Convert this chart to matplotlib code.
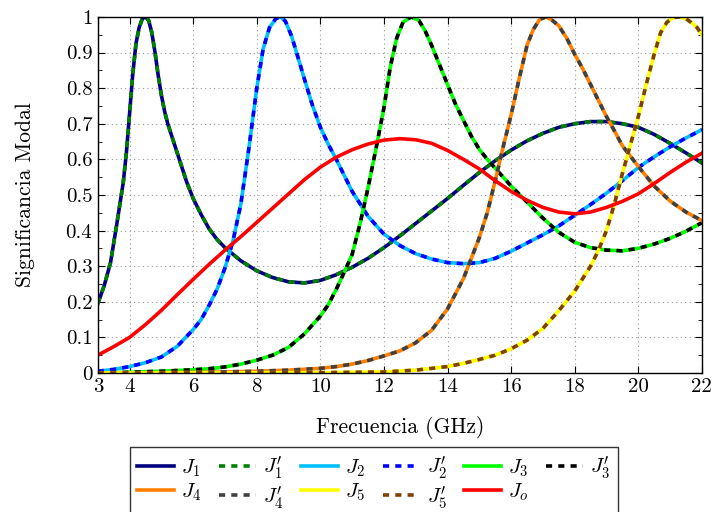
import numpy as np
import matplotlib
matplotlib.use("Agg")
import matplotlib.pyplot as plt

plt.rcParams['font.family'] = ['cmr10', 'DejaVu Serif']
plt.rcParams['mathtext.fontset'] = 'cm'
plt.rcParams['axes.formatter.use_mathtext'] = True

# frecuencia (GHz) y significancia modal de cada modo
f1 = [3.0, 3.2, 3.4, 3.6, 3.8, 3.9, 4.0, 4.1, 4.2, 4.3, 4.4, 4.5, 4.6, 4.7, 4.8, 4.9, 5.0, 5.1,
      5.2, 5.4, 5.6, 5.8, 6.0, 6.25, 6.5, 6.75, 7.0, 7.5, 8.0, 8.5, 9.0, 9.5, 10.0, 10.5, 11.0,
      11.5, 12.0, 12.5, 13.0, 13.5, 14.0, 14.5, 15.0, 15.5, 16.0, 16.5, 17.0, 17.5, 18.0, 18.5,
      19.0, 19.5, 20.0, 20.5, 21.0, 21.5, 22.0]
j1 = [0.195, 0.245, 0.31, 0.42, 0.535, 0.62, 0.73, 0.84, 0.925, 0.97, 0.995, 1.0, 0.99, 0.955,
      0.90, 0.835, 0.78, 0.735, 0.70, 0.645, 0.59, 0.535, 0.49, 0.445, 0.405, 0.375, 0.352, 0.315,
      0.287, 0.268, 0.256, 0.253, 0.26, 0.276, 0.297, 0.322, 0.352, 0.385, 0.42, 0.455, 0.49, 0.527,
      0.563, 0.596, 0.626, 0.652, 0.673, 0.69, 0.70, 0.706, 0.706, 0.70, 0.69, 0.67, 0.645, 0.618,
      0.59]

f2 = [3.0, 3.5, 4.0, 4.5, 5.0, 5.5, 6.0, 6.25, 6.5, 6.75, 7.0, 7.25, 7.5, 7.75, 8.0, 8.2, 8.4,
      8.6, 8.75, 8.9, 9.1, 9.3, 9.5, 9.75, 10.0, 10.25, 10.5, 10.75, 11.0, 11.5, 12.0, 12.5, 13.0,
      13.5, 14.0, 14.5, 15.0, 15.5, 16.0, 16.5, 17.0, 17.5, 18.0, 18.5, 19.0, 19.5, 20.0, 20.5,
      21.0, 21.5, 22.0]
j2 = [0.005, 0.01, 0.018, 0.029, 0.045, 0.075, 0.122, 0.15, 0.19, 0.235, 0.295, 0.37, 0.475,
      0.63, 0.80, 0.91, 0.97, 0.995, 1.0, 0.988, 0.945, 0.885, 0.825, 0.752, 0.69, 0.642, 0.60,
      0.555, 0.51, 0.44, 0.39, 0.358, 0.335, 0.32, 0.31, 0.307, 0.31, 0.322, 0.342, 0.365, 0.388,
      0.413, 0.443, 0.473, 0.505, 0.54, 0.577, 0.607, 0.635, 0.66, 0.683]

f3 = [3.0, 4.0, 5.0, 6.0, 6.5, 7.0, 7.5, 8.0, 8.5, 9.0, 9.5, 10.0, 10.25, 10.5, 10.75, 11.0,
      11.25, 11.5, 11.75, 12.0, 12.2, 12.4, 12.6, 12.85, 13.1, 13.3, 13.5, 13.75, 14.0, 14.25,
      14.5, 14.75, 15.0, 15.25, 15.5, 15.75, 16.0, 16.5, 17.0, 17.5, 18.0, 18.5, 19.0, 19.5,
      20.0, 20.5, 21.0, 21.5, 22.0]
j3 = [0.0, 0.002, 0.005, 0.009, 0.012, 0.017, 0.025, 0.036, 0.05, 0.072, 0.11, 0.16, 0.192,
      0.235, 0.283, 0.333, 0.42, 0.52, 0.63, 0.745, 0.86, 0.94, 0.985, 1.0, 0.99, 0.96, 0.92,
      0.865, 0.81, 0.755, 0.71, 0.665, 0.628, 0.60, 0.575, 0.55, 0.525, 0.48, 0.435, 0.395,
      0.367, 0.352, 0.345, 0.343, 0.35, 0.362, 0.378, 0.398, 0.422]

f4 = [3.0, 5.0, 7.0, 8.0, 9.0, 10.0, 10.5, 11.0, 11.5, 12.0, 12.5, 13.0, 13.5, 14.0, 14.5,
      15.0, 15.25, 15.5, 15.75, 16.0, 16.25, 16.5, 16.7, 16.9, 17.1, 17.3, 17.5, 17.75, 18.0,
      18.25, 18.5, 18.75, 19.0, 19.25, 19.5, 20.0, 20.5, 21.0, 21.5, 22.0]
j4 = [0.0, 0.001, 0.003, 0.005, 0.008, 0.013, 0.018, 0.025, 0.035, 0.048, 0.062, 0.085, 0.12,
      0.18, 0.265, 0.38, 0.45, 0.54, 0.635, 0.725, 0.825, 0.92, 0.965, 0.993, 1.0, 0.99, 0.975,
      0.94, 0.895, 0.855, 0.81, 0.765, 0.72, 0.68, 0.638, 0.58, 0.525, 0.483, 0.452, 0.428]

f5 = [3.0, 10.0, 12.0, 13.0, 14.0, 14.5, 15.0, 15.5, 16.0, 16.5, 17.0, 17.5, 18.0, 18.5, 18.75,
      19.0, 19.25, 19.5, 19.75, 20.0, 20.25, 20.5, 20.7, 20.9, 21.1, 21.3, 21.5, 21.7, 21.85,
      22.0]
j5 = [0.0, 0.001, 0.003, 0.008, 0.018, 0.027, 0.038, 0.05, 0.068, 0.092, 0.125, 0.175, 0.23,
      0.30, 0.345, 0.40, 0.475, 0.56, 0.64, 0.72, 0.81, 0.895, 0.955, 0.985, 0.998, 1.0, 0.995,
      0.982, 0.97, 0.95]

fo = [3.0, 3.5, 4.0, 4.5, 5.0, 5.5, 6.0, 6.5, 7.0, 7.5, 8.0, 8.5, 9.0, 9.5, 10.0, 10.5, 11.0,
      11.5, 12.0, 12.5, 13.0, 13.5, 14.0, 14.5, 15.0, 15.5, 16.0, 16.5, 17.0, 17.5, 18.0, 18.5,
      19.0, 19.5, 20.0, 20.5, 21.0, 21.5, 22.0]
jo = [0.05, 0.074, 0.10, 0.136, 0.176, 0.22, 0.263, 0.305, 0.345, 0.383, 0.423, 0.463, 0.503,
      0.543, 0.578, 0.606, 0.627, 0.643, 0.654, 0.658, 0.655, 0.645, 0.625, 0.60, 0.573, 0.54,
      0.51, 0.485, 0.465, 0.452, 0.447, 0.452, 0.465, 0.482, 0.503, 0.532, 0.563, 0.592, 0.617]

fig = plt.figure(figsize=(7.14, 5.12), dpi=100)
ax = fig.add_axes([0.137, 0.2715, 0.846, 0.6955])

lw = 2.6
dash = (1.7, 1.7)
h = {}
h['J1'], = ax.plot(f1, j1, color='#000080', lw=lw, label=r'$J_1$')
h['J1p'], = ax.plot(f1, j1, color='#008000', lw=lw, dashes=dash, label=r"$J_1^{\prime}$")
h['J2'], = ax.plot(f2, j2, color='#00BFFF', lw=lw, label=r'$J_2$')
h['J2p'], = ax.plot(f2, j2, color='#0000FF', lw=lw, dashes=dash, label=r"$J_2^{\prime}$")
h['J3'], = ax.plot(f3, j3, color='#00FF00', lw=lw, label=r'$J_3$')
h['J3p'], = ax.plot(f3, j3, color='black', lw=lw, dashes=dash, label=r"$J_3^{\prime}$")
h['J4'], = ax.plot(f4, j4, color='#FF8000', lw=lw, label=r'$J_4$')
h['J4p'], = ax.plot(f4, j4, color='#404040', lw=lw, dashes=dash, label=r"$J_4^{\prime}$")
h['J5'], = ax.plot(f5, j5, color='#FFFF00', lw=lw, label=r'$J_5$')
h['J5p'], = ax.plot(f5, j5, color='#804000', lw=lw, dashes=dash, label=r"$J_5^{\prime}$")
h['Jo'], = ax.plot(fo, jo, color='#FF0000', lw=lw, label=r'$J_o$')

ax.set_xlim(3, 22)
ax.set_ylim(0, 1)
ax.set_xticks([3, 4, 6, 8, 10, 12, 14, 16, 18, 20, 22])
ax.set_xticklabels(['3', '4', '6', '8', '10', '12', '14', '16', '18', '20', '22'])
yt = np.round(np.arange(0, 1.01, 0.1), 1)
ax.set_yticks(yt)
ax.set_yticklabels(['0'] + ['%.1f' % v for v in yt[1:-1]] + ['1'])
ax.set_yticks(np.arange(0.05, 1.0, 0.1), minor=True)
ax.tick_params(which='both', direction='in', top=True, right=True, labelsize=15)
ax.tick_params(which='major', length=5, pad=4)
ax.tick_params(which='minor', length=3)
ax.grid(True, which='major', color='#999999', linestyle=(0, (1, 3)), lw=0.8)
for s in ax.spines.values():
    s.set_linewidth(1.0)

ax.set_xlabel('Frecuencia (GHz)', fontsize=15.5, labelpad=14)
ax.set_ylabel('Significancia Modal', fontsize=15.5, labelpad=22)

order = ['J1', 'J4', 'J1p', 'J4p', 'J2', 'J5', 'J2p', 'J5p', 'J3', 'Jo', 'J3p']
leg = fig.legend([h[k] for k in order], [h[k].get_label() for k in order],
                 loc='upper left', bbox_to_anchor=(130 / 714, 1 - 447 / 512),
                 ncol=6, fontsize=15, fancybox=False, edgecolor='#333333',
                 handlelength=1.75, columnspacing=0.85, handletextpad=0.35,
                 borderpad=0.35, labelspacing=0.12, framealpha=1, borderaxespad=0)
leg.get_frame().set_linewidth(1.0)

fig.savefig('out.png', dpi=100)
